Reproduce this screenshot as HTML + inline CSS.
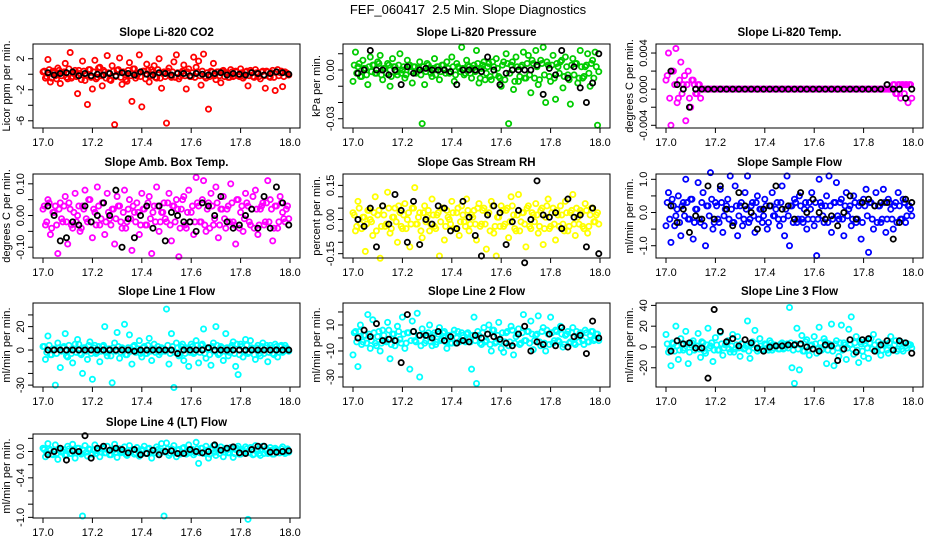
<!DOCTYPE html>
<html><head><meta charset="utf-8"><style>
body{margin:0;background:#fff;}
svg{display:block;font-family:"Liberation Sans",Arial,sans-serif;}
</style></head><body>
<svg id="chart" width="936" height="540" viewBox="0 0 936 540">
<text x="468" y="14" text-anchor="middle" font-size="13" style="white-space:pre">FEF_060417  2.5 Min. Slope Diagnostics</text>
</svg>
<script>
const timesC=[17.00,17.01,17.02,17.03,17.04,17.05,17.06,17.07,17.08,17.09,17.10,17.11,17.12,17.13,17.14,17.15,17.16,17.17,17.18,17.19,17.20,17.21,17.22,17.23,17.24,17.25,17.26,17.27,17.28,17.29,17.30,17.31,17.32,17.33,17.34,17.35,17.36,17.37,17.38,17.39,17.40,17.41,17.42,17.43,17.44,17.45,17.46,17.47,17.48,17.49,17.50,17.51,17.52,17.53,17.54,17.55,17.56,17.57,17.58,17.59,17.60,17.61,17.62,17.63,17.64,17.65,17.66,17.67,17.68,17.69,17.70,17.71,17.72,17.73,17.74,17.75,17.76,17.77,17.78,17.79,17.80,17.81,17.82,17.83,17.84,17.85,17.86,17.87,17.88,17.89,17.90,17.91,17.92,17.93,17.94,17.95,17.96,17.97,17.98,17.99];
const timesB=[17.005,17.015,17.025,17.035,17.045,17.055,17.065,17.075,17.085,17.095,17.105,17.115,17.125,17.135,17.145,17.155,17.165,17.175,17.185,17.195,17.205,17.215,17.225,17.235,17.245,17.255,17.265,17.275,17.285,17.295,17.305,17.315,17.325,17.335,17.345,17.355,17.365,17.375,17.385,17.395,17.405,17.415,17.425,17.435,17.445,17.455,17.465,17.475,17.485,17.495,17.505,17.515,17.525,17.535,17.545,17.555,17.565,17.575,17.585,17.595,17.605,17.615,17.625,17.635,17.645,17.655,17.665,17.675,17.685,17.695,17.705,17.715,17.725,17.735,17.745,17.755,17.765,17.775,17.785,17.795,17.805,17.815,17.825,17.835,17.845,17.855,17.865,17.875,17.885,17.895,17.905,17.915,17.925,17.935,17.945,17.955,17.965,17.975,17.985,17.995];
const timesK=[17.02,17.045,17.07,17.095,17.12,17.145,17.17,17.195,17.22,17.245,17.27,17.295,17.32,17.345,17.37,17.395,17.42,17.445,17.47,17.495,17.52,17.545,17.57,17.595,17.62,17.645,17.67,17.695,17.72,17.745,17.77,17.795,17.82,17.845,17.87,17.895,17.92,17.945,17.97,17.995];
const xTicks=[17.0,17.2,17.4,17.6,17.8,18.0];
const xTickLabels=["17.0","17.2","17.4","17.6","17.8","18.0"];

const co2C=[0.3,-0.5,1.9,-1.0,0.4,-0.2,0.8,-1.2,0.2,1.4,-0.6,2.8,-0.3,0.5,-2.5,0.1,1.7,-0.8,-3.9,0.6,-1.9,1.8,-0.4,0.9,-1.5,0.3,2.4,-0.7,1.1,-6.5,0.5,2.1,-1.3,0.2,-0.9,1.5,-3.5,0.7,-0.2,2.5,-4.2,0.4,1.3,-1.0,0.6,1.1,-0.5,2.0,-1.8,0.3,-6.3,0.8,-0.4,1.6,2.5,-0.6,0.2,1.2,-1.9,0.7,-0.3,2.2,0.9,1.7,-1.4,2.6,-0.5,-4.5,0.4,1.4,-0.7,0.3,-1.1,0.5,0.2,-0.4,0.6,-0.3,0.4,-0.2,0.7,-0.5,0.3,-1.5,0.5,-0.3,0.6,0.2,-0.6,0.4,-1.8,0.3,-0.4,0.5,-2.1,0.6,0.2,-1.6,0.3,0.1];
const co2B=[0.4,-0.3,0.6,-0.5,0.2,-0.6,0.5,-0.2,0.3,-0.4,0.7,-0.5,0.1,-0.3,0.5,-0.7,0.4,-0.1,0.6,-0.4,0.3,-0.6,0.8,-0.2,0.5,-0.5,0.2,-0.8,0.4,-0.3,0.6,-0.4,0.3,-0.7,0.5,-0.2,0.7,-0.5,0.1,-0.3,0.4,-0.6,0.5,-0.2,0.3,-0.4,0.6,-0.5,0.2,-0.3,0.4,-0.2,0.3,-0.4,0.2,-0.3,0.4,-0.2,0.3,-0.3,0.2,-0.4,0.3,-0.2,0.4,-0.3,0.2,-0.3,0.3,-0.2,0.3,-0.2,0.4,-0.3,0.2,-0.4,0.3,-0.2,0.3,-0.3,0.2,-0.3,0.4,-0.2,0.3,-0.4,0.2,-0.3,0.3,-0.2,0.4,-0.3,0.2,-0.4,0.3,-0.2,0.4,-0.3,0.2,-0.1];
const co2K=[0.2,-0.1,0.1,0.2,0.3,-0.2,0.1,-0.2,0,-0.1,0.1,-0.2,0.2,0.1,-0.1,0.3,0,-0.1,0.2,0.1,-0.1,0.1,0.1,-0.2,0.1,0,-0.1,0.1,0.2,-0.1,0.1,0,-0.1,0.2,0.1,-0.1,0.1,0.3,0.2,0];
const presC=[-0.007,0.011,0.002,-0.004,0.006,0.001,-0.009,0.008,0.003,-0.002,0.005,0.009,-0.006,0.001,0.004,-0.010,0.007,0.002,-0.003,0.010,0.000,-0.005,0.006,0.003,-0.008,0.002,-0.001,0.005,-0.033,-0.009,0.004,0.001,-0.004,0.007,0.002,-0.006,0.003,0.000,0.005,-0.002,0.008,-0.007,0.004,0.001,0.014,-0.003,0.006,0.002,-0.005,0.003,0.012,-0.008,0.001,0.005,-0.002,0.004,-0.006,0.002,0.007,-0.004,-0.010,0.005,0.010,-0.033,0.003,-0.012,0.008,-0.007,0.002,0.011,-0.005,0.009,-0.014,0.004,0.012,-0.009,0.006,0.014,-0.020,0.003,-0.007,0.009,-0.018,0.002,0.005,-0.011,0.008,-0.003,-0.021,0.007,0.004,-0.008,0.012,-0.005,0.002,0.010,-0.010,0.006,0.011,-0.034];
const presB=[0.003,-0.002,0.004,-0.004,0.001,-0.003,0.002,-0.001,0.003,-0.002,0.004,-0.003,0.001,-0.002,0.003,-0.004,0.002,-0.001,0.003,-0.002,0.002,-0.003,0.003,-0.001,0.002,-0.002,0.001,-0.003,0.002,-0.001,0.003,-0.002,0.001,-0.003,0.002,-0.001,0.003,-0.002,0.001,-0.001,0.002,-0.003,0.002,-0.001,0.001,-0.002,0.003,-0.002,0.001,-0.001,0.004,-0.005,0.003,-0.006,0.002,-0.004,0.005,-0.003,0.001,-0.005,0.003,-0.006,0.004,-0.002,0.005,-0.007,0.002,-0.004,0.003,-0.005,0.004,-0.003,0.006,-0.005,0.002,-0.006,0.004,-0.003,0.005,-0.004,0.003,-0.005,0.004,-0.002,0.006,-0.004,0.002,-0.006,0.003,-0.003,0.004,-0.005,0.002,-0.004,0.003,-0.002,0.004,-0.005,0.002,-0.001];
const presK=[-0.002,0.000,0.012,0.000,0.000,-0.003,0.000,-0.009,0.002,-0.002,0.000,0.001,0.000,0.000,0.000,-0.001,-0.009,0.000,0.000,0.000,-0.001,0.008,0.000,-0.009,-0.002,0.000,0.000,0.000,0.000,0.003,-0.015,0.001,-0.003,0.012,-0.005,0.002,-0.011,-0.020,-0.008,0.010];
const licTempC=[0.001,0.004,-0.004,0.002,0.0045,-0.001,0.003,0.0005,-0.0035,0.002,-0.002,0.001,-0.0005,0.0005,-0.001,
0,0,0,0,0,0,0,0,0,0,0,0,0,0,0,0,0,0,0,0,0,0,0,0,0,0,0,0,0,0,0,0,0,0,0,0,0,0,0,0,0,0,0,0,0,0,0,0,0,0,0,0,0,0,0,0,0,0,0,0,0,0,0,0,0,0,0,0,0,0,0,0,0,0,0,0,0,
0.0005,-0.0005,0.0005,-0.001,0.0005,0.0005,-0.0015,0.0005];
const licTempB=[0.0015,-0.001,0.002,0.0005,-0.0015,0.001,-0.0005,0.0015,0.0005,-0.001,0.001,0.0005,-0.0005,0.0005,0,
0,0,0,0,0,0,0,0,0,0,0,0,0,0,0,0,0,0,0,0,0,0,0,0,0,0,0,0,0,0,0,0,0,0,0,0,0,0,0,0,0,0,0,0,0,0,0,0,0,0,0,0,0,0,0,0,0,0,0,0,0,0,0,0,0,0,0,0,0,0,0,0,0,0,0,0,0,
0.0005,-0.0005,0.0005,0.0005,-0.0005,0.0005,0.0005,-0.001];
const licTempK=[0.002,0.0005,0,-0.002,0,0,0,0,0,0,0,0,0,0,0,0,0,0,0,0,0,0,0,0,0,0,0,0,0,0,0,0,0,0,0,0.0005,0,0,-0.001,0];
const ambC=[0.02,-0.03,0.05,-0.06,0.01,0.03,-0.12,0.04,-0.02,0.06,-0.09,0.02,-0.04,0.07,0.00,-0.05,0.03,0.08,-0.02,0.05,-0.07,0.01,0.09,-0.03,0.04,-0.06,0.07,-0.01,0.02,-0.09,0.06,0.03,-0.04,0.08,-0.02,0.05,-0.11,0.01,0.04,-0.06,0.07,0.02,-0.03,0.06,-0.12,0.03,0.09,-0.05,0.01,0.04,-0.02,0.07,-0.08,0.03,0.05,-0.13,0.02,0.06,-0.04,0.08,0.01,-0.06,0.12,0.03,-0.02,0.11,-0.05,0.04,0.07,-0.03,0.09,-0.07,0.02,0.06,-0.04,0.03,0.10,-0.02,-0.09,0.05,0.01,-0.05,0.07,0.03,-0.03,0.06,0.08,-0.06,0.02,0.04,-0.02,0.11,0.05,-0.08,0.03,-0.04,0.06,0.01,-0.02,0.03];
const ambB=[0.03,-0.02,0.04,-0.04,0.01,-0.03,0.02,-0.01,0.03,-0.02,0.04,-0.03,0.01,-0.02,0.03,-0.04,0.02,-0.01,0.05,-0.02,0.02,-0.03,0.03,-0.01,0.04,-0.02,0.01,-0.03,0.02,-0.01,0.03,-0.02,0.01,-0.04,0.02,-0.01,0.03,-0.02,0.01,-0.03,0.02,-0.03,0.04,-0.01,0.01,-0.02,0.03,-0.02,0.01,-0.01,0.04,-0.03,0.03,-0.02,0.02,-0.04,0.05,-0.03,0.01,-0.02,0.03,-0.02,0.04,-0.02,0.05,-0.03,0.02,-0.04,0.03,-0.01,0.04,-0.03,0.02,-0.01,0.02,-0.02,0.04,-0.03,0.05,-0.04,0.03,-0.01,0.04,-0.02,0.02,-0.04,0.02,-0.03,0.03,-0.03,0.04,-0.02,0.02,-0.04,0.03,-0.02,0.04,-0.01,0.02,-0.01];
const ambK=[0.03,0.00,-0.08,-0.07,-0.02,-0.03,0.03,-0.02,0.00,0.04,0.00,0.08,-0.10,-0.01,-0.07,0.00,0.03,-0.04,0.03,-0.08,0.01,0.00,-0.02,-0.02,-0.05,0.04,0.03,0.00,0.06,-0.02,-0.04,-0.03,0.00,0.02,-0.04,0.06,-0.04,0.09,0.04,-0.03];
const rhC=[0.03,-0.05,0.08,-0.02,0.01,-0.14,0.04,0.00,-0.07,0.10,0.02,-0.17,0.06,-0.03,0.12,-0.06,0.01,0.05,-0.10,0.03,-0.04,0.07,0.00,-0.12,0.05,0.14,-0.02,0.03,-0.08,0.06,0.01,-0.05,0.09,-0.03,0.02,-0.16,0.05,-0.09,0.04,0.00,0.08,-0.04,0.03,-0.07,0.06,-0.01,0.09,-0.05,0.02,0.04,-0.09,0.07,-0.02,0.05,-0.13,0.03,0.08,-0.06,-0.16,0.01,0.06,-0.03,0.04,-0.08,0.10,0.02,-0.05,0.11,-0.01,0.03,-0.12,0.06,-0.04,0.02,0.07,-0.06,0.04,-0.11,0.01,0.09,-0.03,0.05,-0.09,0.02,0.06,-0.02,0.08,-0.05,0.03,0.11,-0.07,0.01,0.04,-0.03,0.07,-0.06,0.02,0.05,-0.01,0.03];
const rhB=[0.02,-0.03,0.05,-0.04,0.01,-0.02,0.04,-0.01,0.03,-0.05,0.04,-0.03,0.02,-0.02,0.05,-0.04,0.01,-0.01,0.06,-0.03,0.02,-0.04,0.03,-0.02,0.05,-0.02,0.01,-0.05,0.03,-0.01,0.04,-0.02,0.02,-0.04,0.03,-0.01,0.05,-0.03,0.01,-0.02,0.03,-0.04,0.05,-0.01,0.02,-0.03,0.04,-0.02,0.01,-0.02,0.05,-0.03,0.04,-0.02,0.02,-0.05,0.06,-0.03,0.01,-0.03,0.04,-0.02,0.05,-0.01,0.06,-0.04,0.02,-0.05,0.03,-0.02,0.05,-0.03,0.03,-0.01,0.02,-0.03,0.05,-0.04,0.06,-0.04,0.03,-0.02,0.04,-0.03,0.02,-0.05,0.03,-0.03,0.04,-0.02,0.05,-0.02,0.03,-0.04,0.04,-0.03,0.05,-0.01,0.02,-0.02];
const rhK=[0.00,-0.03,0.05,-0.12,0.06,-0.02,0.11,0.04,-0.10,0.08,-0.11,0.00,-0.02,0.06,0.05,-0.05,-0.04,0.08,0.01,-0.07,-0.16,0.02,0.06,0.03,-0.11,-0.01,0.04,-0.19,0.00,0.17,0.02,0.01,0.03,-0.04,0.09,0.01,0.02,-0.12,0.05,-0.15];
const sampC=[-0.4,0.6,-0.9,0.2,-0.1,0.5,-0.7,0.3,1.0,-0.2,0.4,-0.8,0.1,0.9,-0.3,0.6,-1.0,0.2,1.2,-0.5,0.3,-0.2,0.7,-0.6,0.1,0.4,1.1,-0.3,0.8,-0.7,0.2,-0.4,0.6,1.1,-0.2,0.3,-0.6,0.5,0.1,-0.3,0.4,-0.5,0.2,0.6,-0.1,0.3,-0.4,0.8,-0.7,1.1,-1.0,0.2,0.4,-0.3,0.5,-0.2,0.1,-0.5,0.3,0.6,-0.4,-1.3,1.0,0.2,-0.3,0.5,1.1,-0.6,0.3,0.9,-0.2,0.4,-0.7,0.6,0.1,-0.4,0.5,-0.3,0.2,-0.8,0.4,0.7,-1.2,0.3,-0.5,0.6,0.2,-0.3,0.7,-0.6,0.4,0.1,-0.5,0.3,0.6,-0.2,0.4,-0.3,0.2,0.1];
const sampB=[0.3,-0.2,0.4,-0.4,0.1,-0.3,0.2,-0.1,0.3,-0.2,0.4,-0.3,0.1,-0.2,0.3,-0.4,0.2,-0.1,0.4,-0.3,0.2,-0.3,0.3,-0.1,0.2,-0.2,0.1,-0.3,0.2,-0.1,0.3,-0.2,0.1,-0.3,0.2,-0.1,0.3,-0.2,0.1,-0.1,0.2,-0.3,0.2,-0.1,0.1,-0.2,0.3,-0.2,0.1,-0.1,0.2,-0.3,0.3,-0.2,0.2,-0.3,0.3,-0.2,0.1,-0.2,0.3,-0.2,0.3,-0.1,0.2,-0.3,0.2,-0.2,0.3,-0.1,0.3,-0.2,0.2,-0.1,0.2,-0.2,0.3,-0.2,0.3,-0.3,0.2,-0.1,0.3,-0.2,0.2,-0.3,0.2,-0.2,0.3,-0.2,0.3,-0.2,0.2,-0.3,0.2,-0.2,0.3,-0.1,0.2,-0.1];
const sampK=[0.2,-0.3,0.1,-0.6,-0.1,-0.2,0.8,-0.2,0.8,0.1,-0.4,0.6,0.2,0.0,-0.5,0.1,0.2,0.8,0.1,0.2,-0.2,0.6,0.0,0.4,0.0,-0.2,-0.1,-0.4,0.0,0.5,-0.2,0.3,0.4,0.2,0.3,0.3,-0.8,-0.3,0.4,0.3];
const line1C=[3,-8,12,-4,1,-30,6,-15,2,14,-6,0,-11,5,9,-3,-20,2,-8,7,-25,4,-2,-10,3,20,-5,1,-28,6,15,-7,2,22,-4,13,-12,4,-1,8,-6,3,-3,10,-9,5,0,-4,2,-1,35,-12,14,-32,6,-5,3,-9,2,-14,5,-3,8,-11,4,18,-7,1,-13,6,20,-4,3,-9,14,-5,2,7,-14,-21,5,-6,9,-3,8,1,-8,4,-5,6,2,-10,4,-3,5,-6,3,-2,4,1];
const line1B=[3,-2,4,-4,1,-3,2,-1,3,-5,4,-3,1,-2,5,-4,2,-1,4,-3,2,-3,3,-1,4,-2,1,-5,2,-1,3,-2,1,-4,2,-1,3,-2,1,-3,2,-3,4,-1,1,-2,3,-2,1,-1,4,-3,3,-2,2,-4,5,-3,1,-2,3,-2,4,-2,5,-3,2,-4,3,-1,4,-3,2,-1,2,-2,4,-3,5,-4,3,-1,4,-2,2,-4,2,-3,3,-3,4,-2,2,-4,3,-2,4,-1,2,-1];
const line1K=[0,0,0,0,0,0,0,0,0,0,0,0,0,0,-1,0,0,0,0,0,0,-3,0,0,0,0,2,0,0,0,0,0,0,0,0,0,0,0,0,0];
const line2C=[-13,5,-22,10,-3,2,18,-8,14,-4,1,-10,6,-2,12,-16,3,-6,9,-1,16,-8,4,-24,13,-2,19,-30,7,-4,2,10,-6,4,-3,8,-1,5,-8,2,-4,6,0,-3,4,-2,3,-1,-24,16,-35,2,-5,8,-2,10,-10,6,-3,12,-8,-11,4,-6,9,-13,1,7,-4,18,-2,5,13,-9,2,17,-6,8,-10,3,16,-4,6,-2,9,-7,2,5,-3,8,-5,1,4,-2,6,-3,2,5,-1,3];
const line2B=[4,-3,5,-5,2,-4,3,-2,4,-6,5,-4,2,-3,6,-5,3,-2,5,-4,3,-4,4,-2,5,-3,2,-6,3,-2,4,-3,2,-5,3,-2,4,-3,2,-4,3,-4,5,-2,2,-3,4,-3,2,-2,5,-4,4,-3,3,-5,6,-4,2,-3,4,-3,5,-3,6,-4,3,-5,4,-2,5,-4,3,-2,3,-3,5,-4,6,-5,4,-2,5,-3,3,-5,3,-4,4,-4,5,-3,3,-5,4,-3,5,-2,3,-2];
const line2K=[0,6,1,11,-2,-1,-2,-19,18,5,2,2,0,5,-2,1,-4,-2,-3,2,0,3,1,-1,-4,-6,3,9,-10,-3,-5,3,-6,8,-7,1,2,-12,13,0];
const line3C=[12,-5,-18,3,20,-12,8,-3,15,-16,2,6,-1,13,-10,4,-6,18,1,-14,9,-3,14,-8,2,6,-5,12,-2,10,-9,3,-1,25,-11,5,16,-4,8,-2,3,-1,6,-3,2,1,-2,4,-1,3,38,-20,-35,18,-22,11,-4,7,-8,2,10,-6,19,-3,8,-16,3,22,-18,6,-9,21,4,-12,17,29,-7,10,-15,3,-9,6,-11,8,12,-4,5,-8,3,2,-6,10,-3,6,-2,5,-4,1,3,2];
const line3B=[3,-2,4,-4,1,-3,2,-1,3,-5,4,-3,1,-2,5,-4,2,-1,4,-3,2,-3,3,-1,4,-2,1,-5,2,-1,3,-2,1,-4,2,-1,3,-2,1,-3,2,-3,4,-1,1,-2,3,-2,1,-1,4,-3,3,-2,2,-4,5,-3,1,-2,3,-2,4,-2,5,-3,2,-4,3,-1,4,-3,2,-1,2,-2,4,-3,5,-4,3,-1,4,-2,2,-4,2,-3,3,-3,4,-2,2,-4,3,-2,4,-1,2,-1];
const line3K=[-4,6,3,4,-1,-1,-30,36,15,5,8,1,7,4,-1,-4,0,1,1,2,2,3,0,-2,-4,2,1,-13,-2,7,-5,7,8,-4,2,6,-3,6,4,-6];
const line4C=[0.05,-0.08,0.12,0.02,-0.05,0.10,-0.12,0.04,0.00,-0.06,0.08,-0.03,0.11,-0.10,0.05,-0.02,-0.98,0.09,-0.07,0.03,-0.04,0.10,0.01,-0.08,0.06,-0.02,0.08,-0.05,0.03,0.11,-0.09,0.04,-0.01,0.07,-0.06,0.09,0.02,-0.04,0.06,-0.07,0.03,0.08,-0.03,0.05,-0.10,0.02,0.07,-0.05,0.12,-0.98,0.13,-0.06,0.04,0.09,-0.08,0.03,-0.02,0.06,-0.04,0.10,0.01,-0.05,0.14,-0.18,0.05,-0.03,0.08,-0.10,0.04,0.09,-0.06,0.02,0.07,-0.08,0.05,-0.02,0.06,-0.09,0.03,0.08,-0.04,0.01,0.07,-1.03,0.06,-0.05,0.09,0.03,-0.06,0.08,0.02,-0.03,0.06,-0.04,0.05,0.01,-0.02,0.07,-0.03,0.04];
const line4B=[0.03,-0.02,0.04,-0.04,0.01,-0.03,0.02,-0.01,0.03,-0.05,0.04,-0.03,0.01,-0.02,0.05,-0.04,0.02,-0.01,0.04,-0.03,0.02,-0.03,0.03,-0.01,0.04,-0.02,0.01,-0.05,0.02,-0.01,0.03,-0.02,0.01,-0.04,0.02,-0.01,0.03,-0.02,0.01,-0.03,0.02,-0.03,0.04,-0.01,0.01,-0.02,0.03,-0.02,0.01,-0.01,0.04,-0.03,0.03,-0.02,0.02,-0.04,0.05,-0.03,0.01,-0.02,0.03,-0.02,0.04,-0.02,0.05,-0.03,0.02,-0.04,0.03,-0.01,0.04,-0.03,0.02,-0.01,0.02,-0.02,0.04,-0.03,0.05,-0.04,0.03,-0.01,0.04,-0.02,0.02,-0.04,0.02,-0.03,0.03,-0.03,0.04,-0.02,0.02,-0.04,0.03,-0.02,0.04,-0.01,0.02,-0.01];
const line4K=[-0.05,0.00,0.05,-0.13,0.01,0.00,0.24,-0.10,0.05,0.08,0.02,0.05,0.03,-0.02,0.03,-0.05,-0.03,0.02,-0.05,0.00,0.01,-0.03,-0.03,0.03,0.00,-0.02,0.00,0.10,0.02,0.05,0.07,-0.02,-0.03,0.03,0.08,0.08,-0.01,-0.01,0.00,0.01];

const panels=[
 {name:"co2",title:"Slope Li-820 CO2",ylab:"Licor ppm per min.",col:0,row:0,color:"#ff0000",c:co2C,b:co2B,k:co2K,top:3.9,bot:-6.93,ticks:[2,0,-2,-4,-6],labels:["2","","-2","","-6"]},
 {name:"pressure",title:"Slope Li-820 Pressure",ylab:"kPa per min.",col:1,row:0,color:"#00cc00",c:presC,b:presB,k:presK,top:0.016,bot:-0.0357,ticks:[0.01,0,-0.01,-0.02,-0.03],labels:["","0.00","","","-0.03"]},
 {name:"licor-temp",title:"Slope Li-820 Temp.",ylab:"degrees C per min.",col:2,row:0,color:"#ff00ff",c:licTempC,b:licTempB,k:licTempK,top:0.005,bot:-0.0043,ticks:[0.004,0.002,0,-0.002,-0.004],labels:["0.004","","0.000","","-0.004"]},
 {name:"amb-temp",title:"Slope Amb. Box Temp.",ylab:"degrees C per min.",col:0,row:1,color:"#ff00ff",c:ambC,b:ambB,k:ambK,top:0.131,bot:-0.134,ticks:[0.10,0.05,0,-0.05,-0.10],labels:["0.10","","0.00","","-0.10"]},
 {name:"rh",title:"Slope Gas Stream RH",ylab:"percent per min.",col:1,row:1,color:"#ffff00",c:rhC,b:rhB,k:rhK,top:0.20,bot:-0.169,ticks:[0.15,0.10,0.05,0,-0.05,-0.10,-0.15],labels:["0.15","","","0.00","","","-0.15"]},
 {name:"sample-flow",title:"Slope Sample Flow",ylab:"ml/min per min.",col:2,row:1,color:"#0000ff",c:sampC,b:sampB,k:sampK,top:1.16,bot:-1.37,ticks:[1,0.5,0,-0.5,-1],labels:["1.0","","0.0","","-1.0"]},
 {name:"line1-flow",title:"Slope Line 1 Flow",ylab:"ml/min per min.",col:0,row:2,color:"#00ffff",c:line1C,b:line1B,k:line1K,top:40.2,bot:-31.6,ticks:[30,20,10,0,-10,-20,-30],labels:["","20","","0","","","-30"]},
 {name:"line2-flow",title:"Slope Line 2 Flow",ylab:"ml/min per min.",col:1,row:2,color:"#00ffff",c:line2C,b:line2B,k:line2K,top:26.9,bot:-37.7,ticks:[20,10,0,-10,-20,-30],labels:["","10","","-10","","-30"]},
 {name:"line3-flow",title:"Slope Line 3 Flow",ylab:"ml/min per min.",col:2,row:2,color:"#00ffff",c:line3C,b:line3B,k:line3K,top:42.3,bot:-38.5,ticks:[40,20,0,-20],labels:["40","20","0","-20"]},
 {name:"line4-flow",title:"Slope Line 4 (LT) Flow",ylab:"ml/min per min.",col:0,row:3,color:"#00ffff",c:line4C,b:line4B,k:line4K,top:0.266,bot:-1.01,ticks:[0.2,0,-0.2,-0.4,-0.6,-0.8,-1.0],labels:["","0.0","","-0.4","","","-1.0"]}
];
const colLeft=[33,343,656], rowTop=[44,174,303,434], boxW=267, boxH=84;
const NS="http://www.w3.org/2000/svg";
const svg=document.getElementById('chart');
function mk(tag,attrs,parent){const e=document.createElementNS(NS,tag);for(const a in attrs)e.setAttribute(a,attrs[a]);(parent||svg).appendChild(e);return e;}
panels.forEach(p=>{
 const L=colLeft[p.col], T=rowTop[p.row];
 const xS=v=>L+10+(v-17)*247;
 const yS=v=>T+(p.top-v)/(p.top-p.bot)*boxH;
 const g=mk('g',{});
 
 
 const t=mk('text',{x:L+boxW/2,y:T-8,'text-anchor':'middle','font-size':'11.5','font-weight':'bold'},g);
 t.textContent=p.title;
 
 
 const yl=mk('text',{transform:`translate(${L-23},${T+boxH/2}) rotate(-90)`,'text-anchor':'middle','font-size':'11'},g);
 yl.textContent=p.ylab;
 
 
 const pts=mk('g',{fill:'none','stroke-width':'1.8'},g);
 
 
 p.b.forEach((v,i)=>{const c=mk('circle',{cx:xS(timesB[i]),cy:yS(v),r:2.6,stroke:p.color},pts);
  
  });
 p.c.forEach((v,i)=>{const c=mk('circle',{cx:xS(timesC[i]),cy:yS(v),r:2.6,stroke:p.color},pts);
  
  });
 p.k.forEach((v,i)=>{const c=mk('circle',{cx:xS(timesK[i]),cy:yS(v),r:2.6,stroke:'#000'},pts);
  
  });
 const box=mk('rect',{x:L,y:T,width:boxW,height:boxH,fill:'none',stroke:'#000','stroke-width':'1'},g);
 
 
 const ya=mk('g',{stroke:'#000'},g);
 
 
 mk('line',{x1:L,x2:L,y1:yS(p.ticks[0]),y2:yS(p.ticks[p.ticks.length-1])},ya);
 p.ticks.forEach((v,i)=>{mk('line',{x1:L-5,x2:L,y1:yS(v),y2:yS(v)},ya);
  if(p.labels[i]){const lt=mk('text',{transform:`translate(${L-9},${yS(v)}) rotate(-90)`,'text-anchor':'middle','font-size':'11',stroke:'none'},ya);lt.textContent=p.labels[i];
   
   }});
 const xa=mk('g',{stroke:'#000'},g);
 
 
 mk('line',{x1:xS(xTicks[0]),x2:xS(xTicks[xTicks.length-1]),y1:T+boxH,y2:T+boxH},xa);
 xTicks.forEach((v,i)=>{mk('line',{x1:xS(v),x2:xS(v),y1:T+boxH,y2:T+boxH+5},xa);
  const lt=mk('text',{x:xS(v),y:T+boxH+18,'text-anchor':'middle','font-size':'11',stroke:'none'},xa);lt.textContent=xTickLabels[i];
  
  });
});
</script>
</body></html>
